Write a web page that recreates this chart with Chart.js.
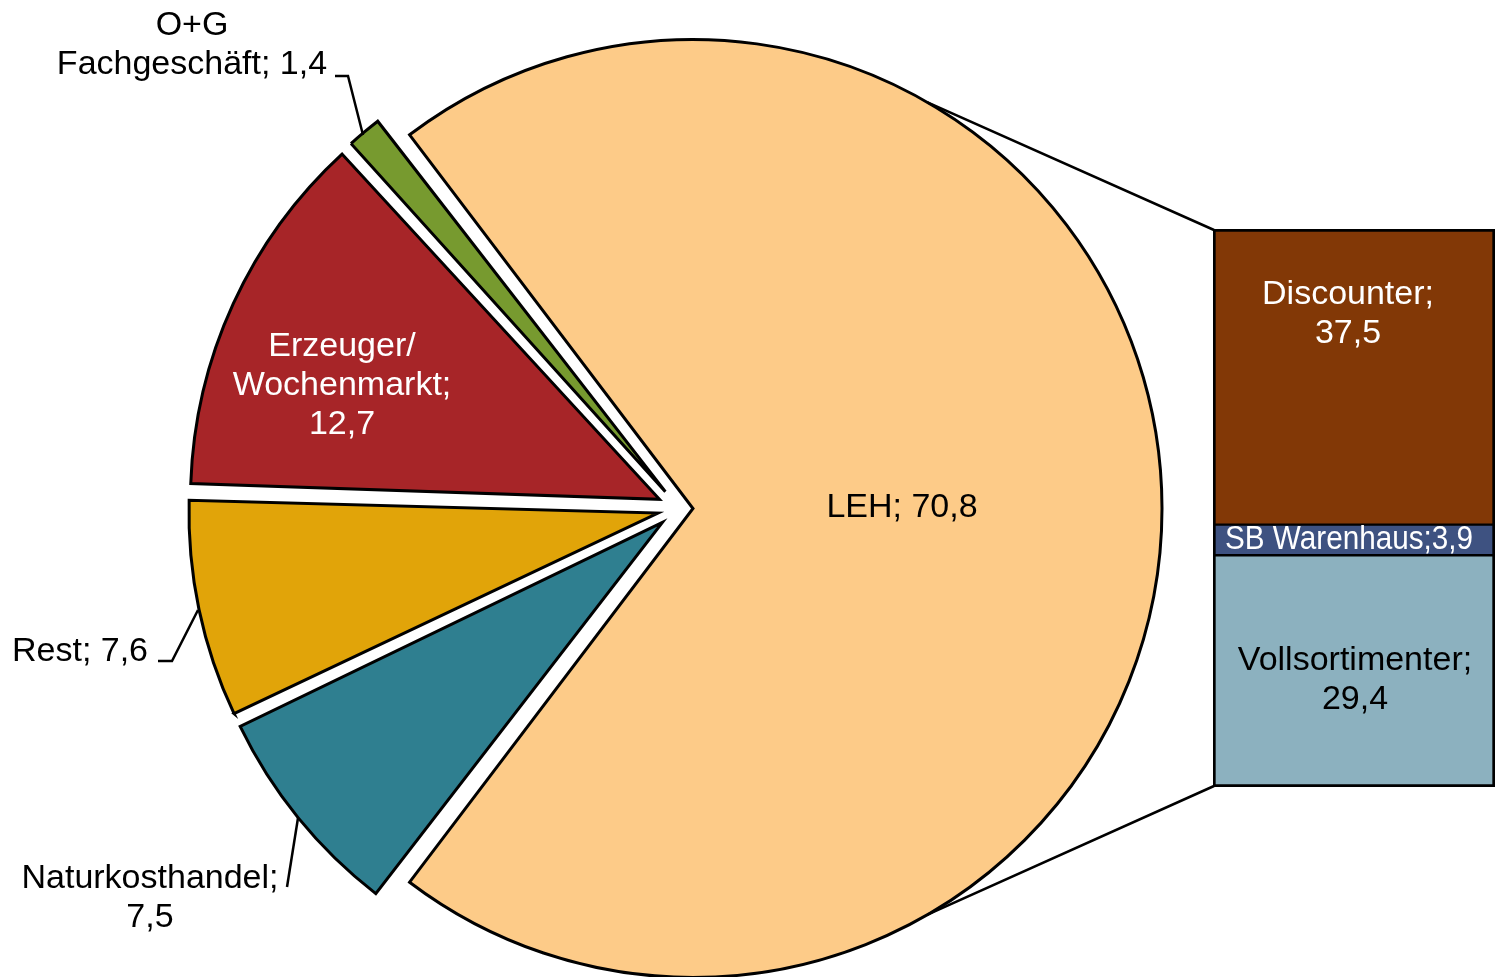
<!DOCTYPE html>
<html>
<head>
<meta charset="utf-8">
<script src="https://cdn.jsdelivr.net/npm/chart.js@4.4.1/dist/chart.umd.min.js"></script>
<style>
  html, body { margin: 0; padding: 0; background: #ffffff; }
  body { width: 1498px; height: 977px; position: relative; overflow: hidden; }
  #pie { position: absolute; left: 0; top: 0; }
  #bar { position: absolute; left: 1213px; top: 229px; }
</style>
</head>
<body>
<canvas id="pie" width="1498" height="977"></canvas>
<canvas id="bar" width="282" height="558"></canvas>
<script>
// ---- data ----
const pieLabels = ['LEH', 'Naturkosthandel', 'Rest', 'Erzeuger/ Wochenmarkt', 'O+G Fachgeschäft'];
const pieValues = [70.8, 7.5, 7.6, 12.7, 1.4];
const barLabels = ['Vollsortimenter', 'SB Warenhaus', 'Discounter'];
const barValues = [29.4, 3.9, 37.5];

// ---- styles ----
const pieColors = ['#FDCB88', '#2F7F90', '#E1A409', '#A72528', '#779A2F'];
const barColors = ['#8CB1BF', '#3E5281', '#823806'];
const explode = [13.5, 22, 22, 22, 22];   // slice shift in px
const PIE_R = 469;
const FONT = '34px "Liberation Sans", Arial, sans-serif';

const fmt = v => v.toFixed(1).replace('.', ',');
const pieTotal = pieValues.reduce((a, b) => a + b, 0);
const barTotal = barValues.reduce((a, b) => a + b, 0);
const rotation = 90 - (pieValues[0] / pieTotal * 360) / 2;

const BAR_LEFT = 1213, BAR_TOP = 229;

// label layout (page coordinates): lines, centre x, first baseline, colour
const pieLabelLayout = [
  { lines: [`${pieLabels[0]}; ${fmt(pieValues[0])}`], x: 902, y: 517, color: '#000' },
  { lines: ['Naturkosthandel;', fmt(pieValues[1])], x: 150, y: 888, color: '#000' },
  { lines: [`Rest; ${fmt(pieValues[2])}`], x: 80, y: 661, color: '#000' },
  { lines: ['Erzeuger/', 'Wochenmarkt;', fmt(pieValues[3])], x: 342, y: 356, color: '#fff' },
  { lines: ['O+G', `Fachgeschäft; ${fmt(pieValues[4])}`], x: 192, y: 35, color: '#000' }
];
const leaders = [
  [[335, 76], [348, 76], [363, 135]],
  [[158, 661], [172, 661], [198, 610]],
  [[287, 887], [298, 818]]
];
const barLabelLayout = [
  { lines: [`${barLabels[0]};`, fmt(barValues[0])], x: 1355, y: 670, color: '#000' },
  { lines: [`${barLabels[1]};${fmt(barValues[1])}`], x: 1349, y: 549, color: '#fff', maxW: 248 },
  { lines: [`${barLabels[2]};`, fmt(barValues[2])], x: 1348, y: 304, color: '#fff' }
];
// border per segment: outer edges 3px, inner dividers ~3px total
const barBorders = [
  { top: 1.5, bottom: 3, left: 3, right: 3 },
  { top: 1.5, bottom: 1.5, left: 3, right: 3 },
  { top: 3, bottom: 1.5, left: 3, right: 3 }
];

function drawLines(ctx, lab, dx, dy) {
  ctx.save();
  ctx.font = FONT;
  ctx.fillStyle = lab.color;
  ctx.textAlign = 'center';
  ctx.textBaseline = 'alphabetic';
  lab.lines.forEach((t, k) => {
    if (lab.maxW) ctx.fillText(t, lab.x - dx, lab.y - dy + k * 39, lab.maxW);
    else ctx.fillText(t, lab.x - dx, lab.y - dy + k * 39);
  });
  ctx.restore();
}

// ---- bar (breakdown of LEH) ----
const barChart = new Chart(document.getElementById('bar'), {
  type: 'bar',
  data: {
    labels: [''],
    datasets: barLabels.map((l, i) => ({
      label: l,
      data: [barValues[i]],
      backgroundColor: barColors[i],
      borderColor: '#000',
      borderWidth: barBorders[i],
      borderSkipped: false,
      barPercentage: 1,
      categoryPercentage: 1
    }))
  },
  options: {
    responsive: false,
    animation: false,
    events: [],
    layout: { padding: 0 },
    plugins: { legend: { display: false }, tooltip: { enabled: false } },
    scales: {
      x: { stacked: true, display: false },
      y: { stacked: true, display: false, min: 0, max: barTotal }
    }
  },
  plugins: [{
    id: 'barLabels',
    afterDatasetsDraw(chart) {
      barLabelLayout.forEach(l => drawLines(chart.ctx, l, BAR_LEFT, BAR_TOP));
    }
  }]
});

// ---- pie ----
const pieChart = new Chart(document.getElementById('pie'), {
  type: 'pie',
  data: {
    labels: pieLabels,
    datasets: [{
      data: pieValues,
      backgroundColor: pieColors,
      borderColor: '#000',
      borderWidth: 3,
      borderJoinStyle: 'miter',
      offset: explode.map(e => e * 4),
      hoverOffset: 0
    }]
  },
  options: {
    responsive: false,
    animation: false,
    events: [],
    rotation: rotation,
    radius: PIE_R,
    layout: { padding: { left: 0, right: 139, top: 40, bottom: 0 } },
    plugins: { legend: { display: false }, tooltip: { enabled: false } }
  },
  plugins: [{
    id: 'radiusFix',
    afterDatasetsUpdate(chart) {
      const meta = chart.getDatasetMeta(0);
      meta.data.forEach((arc, i) => {
        const c = arc.endAngle - arc.startAngle;
        const fix = 1 - Math.sin(Math.min(Math.PI, c));
        arc.outerRadius = PIE_R - explode[i] * fix;
      });
    }
  }, {
    id: 'pieDecor',
    afterDatasetsDraw(chart) {
      const ctx = chart.ctx;
      const leh = chart.getDatasetMeta(0).data[0];
      const mid = (leh.startAngle + leh.endAngle) / 2;
      const cx = leh.x + Math.cos(mid) * explode[0];
      const cy = leh.y + Math.sin(mid) * explode[0];
      // bar corners from the bar chart scales
      const bTop = barChart.getDatasetMeta(barLabels.length - 1).data[0];
      const bBot = barChart.getDatasetMeta(0).data[0];
      const left = BAR_LEFT + bTop.x - bTop.width / 2 + 1;
      const top = BAR_TOP + bTop.y + 1;
      const bottom = BAR_TOP + bBot.base - 1;
      const a = Math.PI / 3;
      ctx.save();
      ctx.strokeStyle = '#000';
      ctx.lineWidth = 2.5;
      ctx.beginPath();
      ctx.moveTo(cx + PIE_R * Math.cos(-a), cy + PIE_R * Math.sin(-a));
      ctx.lineTo(left, top);
      ctx.moveTo(cx + PIE_R * Math.cos(a), cy + PIE_R * Math.sin(a));
      ctx.lineTo(left, bottom);
      ctx.stroke();
      // leader lines
      ctx.lineJoin = 'miter';
      leaders.forEach(pts => {
        ctx.beginPath();
        pts.forEach((p, k) => k ? ctx.lineTo(p[0], p[1]) : ctx.moveTo(p[0], p[1]));
        ctx.stroke();
      });
      ctx.restore();
      pieLabelLayout.forEach(l => drawLines(ctx, l, 0, 0));
    }
  }]
});
</script>
</body>
</html>
